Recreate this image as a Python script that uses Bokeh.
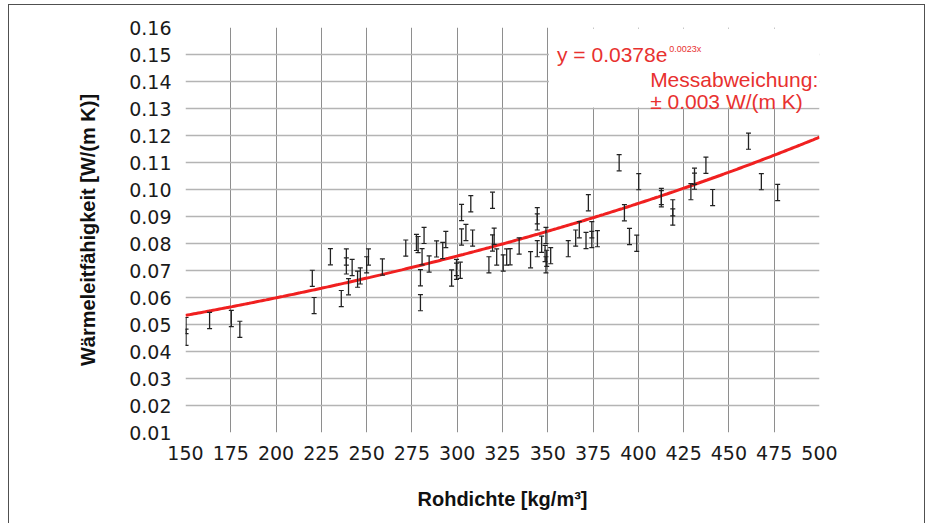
import numpy as np
from bokeh.plotting import figure
from bokeh.models import Range1d, FixedTicker, PrintfTickFormatter, BoxAnnotation, Label
from bokeh.embed import file_html
from bokeh.resources import INLINE

# --- data ---
density = [150.3, 150.3, 163.3, 175.3, 180.0, 220.0, 221.0, 230.0, 236.0, 238.8,
           238.8, 240.0, 242.0, 245.0, 246.5, 250.0, 251.0, 258.7, 271.6, 277.5,
           278.4, 279.7, 279.7, 280.6, 281.7, 284.5, 288.6, 292.0, 293.7, 296.9,
           299.6, 299.6, 301.7, 302.4, 302.4, 304.8, 307.5, 308.5, 317.5, 319.5,
           319.5, 320.4, 321.8, 325.4, 327.3, 329.2, 334.2, 340.5, 344.2, 344.2,
           344.2, 346.6, 348.5, 349.0, 349.0, 349.4, 351.6, 361.3, 365.4, 367.4,
           371.1, 372.4, 374.3, 374.3, 377.4, 389.4, 392.3, 395.1, 399.1, 400.2,
           412.7, 412.7, 419.0, 419.0, 429.0, 431.0, 431.0, 437.3, 441.0, 460.8,
           467.9, 476.9]
conductivity = [0.0496, 0.0453, 0.0515, 0.0522, 0.0482, 0.0671, 0.0570, 0.0751, 0.0596, 0.0750,
                0.0717, 0.0640, 0.0711, 0.0668, 0.0680, 0.0721, 0.0750, 0.0713, 0.0783, 0.0804,
                0.0796, 0.0673, 0.0581, 0.0751, 0.0830, 0.0724, 0.0780, 0.0774, 0.0815, 0.0672,
                0.0711, 0.0697, 0.0701, 0.0915, 0.0824, 0.0841, 0.0947, 0.0820, 0.0721, 0.0960,
                0.0802, 0.0827, 0.0750, 0.0728, 0.0750, 0.0751, 0.0791, 0.0740, 0.0903, 0.0880,
                0.0781, 0.0797, 0.0763, 0.0830, 0.0721, 0.0745, 0.0755, 0.0781, 0.0820, 0.0851,
                0.0811, 0.0951, 0.0851, 0.0815, 0.0818, 0.1099, 0.0914, 0.0826, 0.0801, 0.1029,
                0.0974, 0.0966, 0.0932, 0.0898, 0.0992, 0.1049, 0.1031, 0.1090, 0.0970, 0.1179,
                0.1029, 0.0989]
deviation = 0.003          # ± measurement deviation (W/(m K))
fit_a = 0.0378             # trend line y = a * e^(b x)
fit_b = 0.0023
x_ticks = [150, 175, 200, 225, 250, 275, 300, 325, 350, 375, 400, 425, 450, 475, 500]
y_ticks = [0.01, 0.02, 0.03, 0.04, 0.05, 0.06, 0.07, 0.08, 0.09, 0.10,
           0.11, 0.12, 0.13, 0.14, 0.15, 0.16]

TICK_FONT = "DejaVu Sans"
TITLE_FONT = "Liberation Sans"
RED_TEXT = "#e8312f"
RED_LINE = "#f02020"
BAR = "#222222"

p = figure(width=917, height=519, output_backend="svg", toolbar_location=None,
           x_range=Range1d(x_ticks[0], x_ticks[-1]), y_range=Range1d(y_ticks[0], y_ticks[-1]),
           min_border_left=176, min_border_right=107, min_border_top=22, min_border_bottom=92)
p.styles = {"border-left": "1px solid #505050", "border-top": "1px solid #505050",
            "border-right": "1px solid #505050", "margin-left": "8px", "margin-top": "4px"}
p.outline_line_color = None
p.background_fill_color = "white"
p.border_fill_color = "white"

# grids
p.xgrid.ticker = FixedTicker(ticks=x_ticks[1:-1])
p.ygrid.ticker = FixedTicker(ticks=y_ticks)
p.xgrid.grid_line_color = "#8e8e8e"
p.xgrid.grid_line_width = 1
p.ygrid.grid_line_color = "#b4b4b4"
p.ygrid.grid_line_width = 1.5

# axes
p.xaxis.ticker = FixedTicker(ticks=x_ticks)
p.yaxis.ticker = FixedTicker(ticks=y_ticks)
p.yaxis.formatter = PrintfTickFormatter(format="%.2f")
for ax in (p.xaxis, p.yaxis):
    ax.axis_line_color = None
    ax.major_tick_line_color = None
    ax.minor_tick_line_color = None
    ax.major_tick_out = 0
    ax.major_tick_in = 0
    ax.major_label_text_font = TICK_FONT
    ax.major_label_text_font_size = "19px"
    ax.major_label_text_color = "#1a1a1a"
    ax.axis_label_text_font = TITLE_FONT
    ax.axis_label_text_font_style = "bold"
    ax.axis_label_text_font_size = "20px"
    ax.axis_label_text_color = "#111111"
p.yaxis.major_label_standoff = 14
p.xaxis.major_label_standoff = 13
p.yaxis.axis_label_standoff = 27
p.xaxis.axis_label_standoff = 25
p.xaxis.axis_label = "Rohdichte [kg/m³]"
p.yaxis.axis_label = "Wärmeleitfähigkeit [W/(m K)]"

# trend line from the stated equation
x_fit = np.linspace(x_ticks[0], x_ticks[-1], 300)
y_fit = fit_a * np.exp(fit_b * x_fit)
p.line(x_fit, y_fit, line_color=RED_LINE, line_width=3)

# error bars
c = np.array(conductivity)
p.segment(x0=density, y0=c - deviation, x1=density, y1=c + deviation,
          line_color=BAR, line_width=1.3)
p.scatter(density + density, list(c - deviation) + list(c + deviation), marker="dash",
          size=5, line_color=BAR, line_width=1.2)

# annotation box
p.add_layout(BoxAnnotation(left=350.6, right=500, bottom=0.1304, top=0.1596,
                           fill_color="white", fill_alpha=1.0, line_alpha=0))

def lab(x, y, text, size, align="left"):
    p.add_layout(Label(x=x, y=y, text=text, text_font=TITLE_FONT, text_font_size=size,
                       text_color=RED_TEXT, text_align=align, text_baseline="alphabetic"))

lab(355.1, 0.1499, "y = 0.0378e", "21px")
lab(417.0, 0.1521, "0.0023x", "9px")
lab(406.5, 0.1407, "Messabweichung:", "21px")
lab(406.5, 0.1327, "± 0.003 W/(m K)", "21px")

open("out.html", "w").write(file_html(p, INLINE))
